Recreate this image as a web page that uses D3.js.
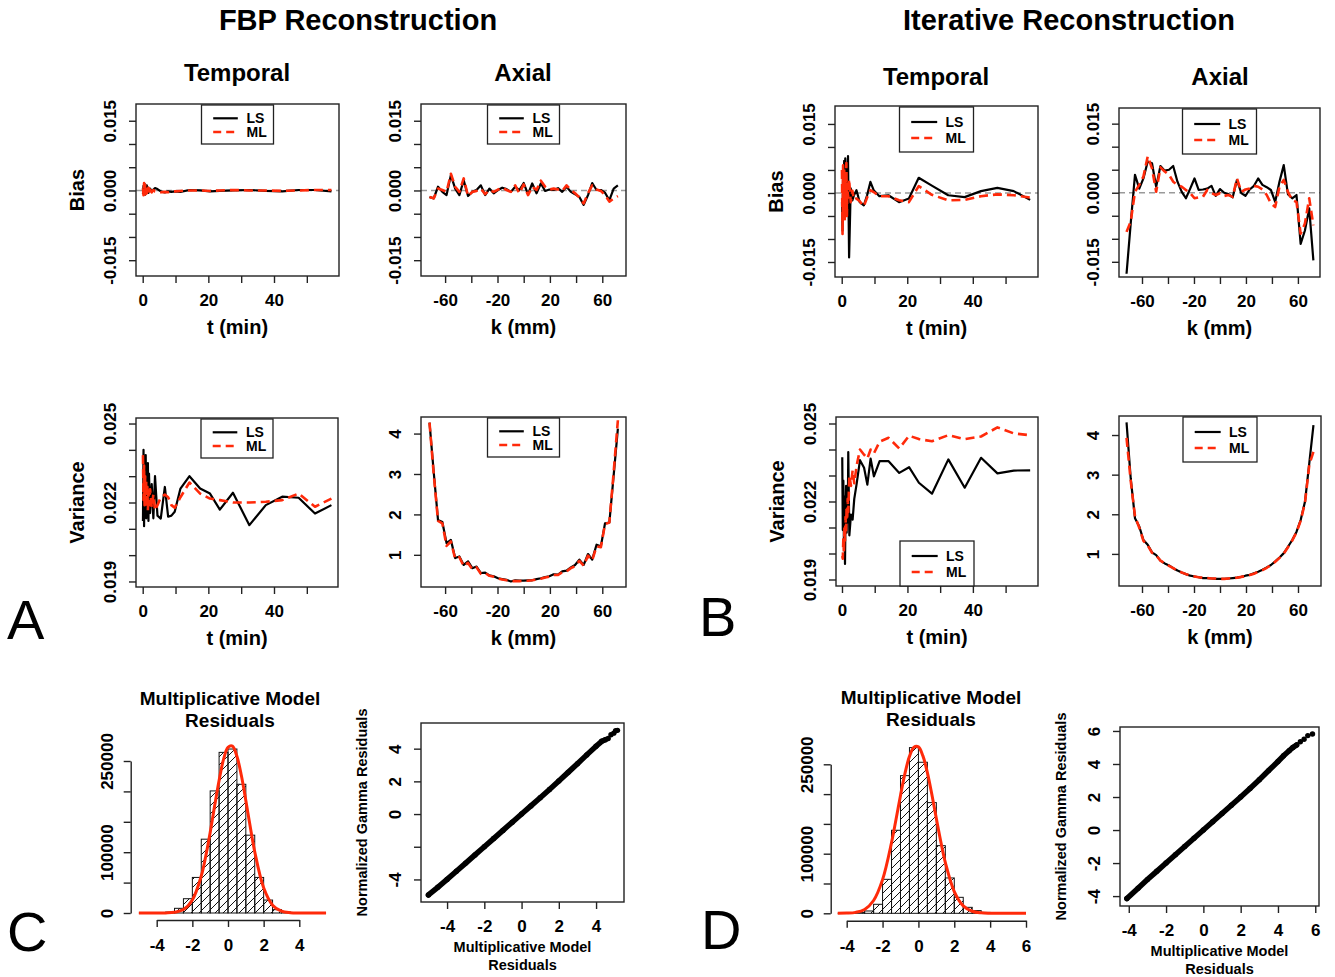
<!DOCTYPE html>
<html>
<head>
<meta charset="utf-8">
<script src="https://cdn.jsdelivr.net/npm/d3@7"></script>
<style>
body { margin: 0; background: #fff; }
svg { display: block; }
</style>
</head>
<body>
<svg id="fig" width="1335" height="977"></svg>
<script>
// ---- data ----
var tFrames = [0.08,0.25,0.42,0.58,0.75,0.92,1.08,1.25,1.42,1.58,1.75,1.92,2.25,2.75,3.25,3.75,4.5,5.5,6.75,7.75,8.75,9.75,11.5,14.25,17.5,20.5,23.5,27.5,32.5,37.5,42.5,47.5,52.5,57.5];
var kSlices = [-71.9,-68.7,-65.4,-62.1,-58.9,-55.6,-52.3,-49.1,-45.8,-42.5,-39.2,-36.0,-32.7,-29.4,-26.2,-22.9,-19.6,-16.4,-13.1,-9.8,-6.5,-3.3,0,3.3,6.5,9.8,13.1,16.4,19.6,22.9,26.2,29.4,32.7,36.0,39.2,42.5,45.8,49.1,52.3,55.6,58.9,62.1,65.4,68.7,71.9];

// FBP
var fbpTempBiasLS = [-0.0008,0.0010,-0.0006,0.0014,-0.0009,0.0008,-0.0004,0.0011,-0.0002,0.0006,-0.0005,0.0003,0.0004,-0.0003,0.0002,0.0005,0.0003,-0.0002,-0.0004,-0.0002,-0.0003,-0.0002,-0.0003,0.0001,0.0000,-0.0002,-0.0001,0.0000,0.0001,-0.0001,-0.0002,0.0001,0.0001,-0.0002];
var fbpTempBiasML = [0.0005,-0.0010,0.0016,-0.0004,0.0012,-0.0008,0.0009,-0.0006,0.0004,-0.0005,0.0006,-0.0007,0.0002,-0.0004,0.0001,-0.0002,-0.0003,-0.0004,-0.0003,-0.0004,-0.0002,-0.0002,-0.0001,0.0000,0.0000,-0.0001,0.0000,0.0001,0.0000,0.0000,-0.0001,0.0000,0.0001,0.0001];
var fbpAxBiasLS = [-0.0014,-0.0017,0.0008,-0.0003,-0.0010,0.0033,0.0004,-0.0010,0.0022,-0.0012,-0.0003,0.0001,0.0011,-0.0010,0.0004,-0.0006,0.0001,0.0006,0.0003,-0.0003,0.0008,0.0001,0.0016,-0.0008,0.0015,-0.0006,0.0015,-0.0001,0.0002,0.0001,0.0005,-0.0003,0.0008,-0.0003,-0.0008,-0.0014,-0.0031,-0.0010,0.0016,0.0001,0.0001,-0.0005,-0.0021,0.0004,0.0011];
var fbpAxBiasML = [-0.0014,-0.0017,0.0004,0.0001,-0.0003,0.0036,0.0008,-0.0003,0.0026,-0.0012,-0.0003,-0.0001,0.0004,-0.0008,0.0001,-0.0003,0.0002,0.0006,0.0001,-0.0003,0.0011,-0.0006,0.0013,-0.0010,0.0008,0.0001,0.0021,0.0008,0.0002,0.0004,0.0002,-0.0001,0.0011,0.0001,-0.0006,-0.0015,-0.0028,-0.0006,0.0011,0.0002,-0.0001,-0.0010,-0.0024,-0.0017,-0.0012];
var fbpTempVarLS = [0.0213,0.0240,0.0211,0.0232,0.0215,0.0238,0.0214,0.0228,0.0217,0.0235,0.0213,0.0231,0.0216,0.0227,0.0214,0.0230,0.0215,0.02139,0.02259,0.02146,0.02150,0.02165,0.02253,0.02300,0.02253,0.02234,0.02173,0.02237,0.02114,0.02190,0.02222,0.02218,0.02158,0.02190];
var fbpTempVarML = [0.0238,0.0221,0.0234,0.0219,0.0230,0.0218,0.0228,0.0220,0.0226,0.0217,0.0224,0.0219,0.0225,0.0218,0.0223,0.0217,0.0219,0.0222,0.0223,0.0222,0.0219,0.0218,0.0222,0.02276,0.02234,0.02215,0.02209,0.02200,0.02200,0.02203,0.02209,0.02234,0.02184,0.02215];
var fbpAxVarLS = [4.27,3.05,1.86,1.81,1.29,1.37,0.92,0.96,0.75,0.84,0.67,0.71,0.55,0.56,0.49,0.47,0.42,0.40,0.38,0.34,0.37,0.36,0.36,0.37,0.37,0.40,0.42,0.45,0.47,0.52,0.51,0.59,0.61,0.69,0.75,0.88,0.75,1.02,0.88,1.25,1.21,1.78,1.80,2.97,4.12];
var fbpAxVarML = [4.27,3.00,1.84,1.78,1.22,1.33,0.90,0.94,0.72,0.80,0.64,0.69,0.53,0.55,0.48,0.46,0.41,0.39,0.37,0.35,0.35,0.35,0.36,0.36,0.37,0.39,0.41,0.44,0.46,0.50,0.50,0.57,0.59,0.67,0.72,0.85,0.73,0.98,0.86,1.21,1.19,1.76,1.80,3.05,4.33];

// Iterative
var itTempBiasLS = [-0.0020,-0.0082,0.0050,-0.0030,0.0070,-0.0010,0.0075,-0.0050,0.0060,-0.0020,0.0040,0.0080,-0.0140,0.0010,-0.0016,-0.0005,0.0006,-0.0020,-0.0027,-0.0005,0.0024,0.0006,-0.0007,-0.0005,-0.0020,-0.0012,0.0033,0.0016,-0.0005,-0.0009,0.0004,0.0011,0.0004,-0.0015];
var itTempBiasML = [0.0050,-0.0089,0.0060,-0.0040,0.0055,-0.0060,0.0040,-0.0030,0.0065,-0.0050,0.0020,-0.0010,0.0030,-0.0020,0.0005,-0.0015,-0.0012,-0.0018,-0.0029,-0.0010,0.0006,0.0002,-0.0007,-0.0007,-0.0016,-0.0020,0.0015,-0.0004,-0.0016,-0.0015,-0.0007,-0.0003,-0.0005,-0.0010];
var itAxBiasLS = [-0.0176,-0.0067,0.0039,0.0009,0.0031,0.0068,0.0064,0.0013,0.0058,0.0048,0.0050,0.0058,0.0024,0.0002,-0.0012,0.0009,0.0031,0.0006,0.0007,0.0009,0.0015,-0.0007,0.0008,0.0000,-0.0003,-0.0010,0.0028,-0.0001,-0.0007,0.0007,0.0015,0.0031,0.0017,0.0012,0.0006,-0.0020,0.0024,0.0060,-0.0003,-0.0012,-0.0005,-0.0111,-0.0082,-0.0034,-0.0147];
var itAxBiasML = [-0.0085,-0.0063,0.0002,0.0017,0.0035,0.0079,0.0053,0.0002,0.0055,0.0046,0.0039,0.0024,0.0017,0.0013,0.0006,-0.0001,-0.0012,-0.0010,-0.0009,0.0006,-0.0001,-0.0005,-0.0001,-0.0007,-0.0005,-0.0009,0.0031,0.0002,0.0007,0.0009,0.0015,0.0013,0.0007,-0.0005,-0.0023,-0.0031,0.0013,0.0028,0.0002,-0.0016,-0.0020,-0.0089,-0.0067,-0.0012,-0.0071];
var itTempVarLS = [0.0237,0.0209,0.0228,0.0205,0.0222,0.0196,0.0215,0.0226,0.0208,0.0224,0.0212,0.0239,0.0207,0.0215,0.0213,0.0221,0.0227,0.02359,0.0233,0.02265,0.02365,0.02297,0.02355,0.02355,0.0231,0.02332,0.02272,0.0223,0.02362,0.02253,0.02368,0.02308,0.02319,0.0232];
var itTempVarML = [0.0199,0.0198,0.0206,0.0200,0.0210,0.0205,0.0214,0.0209,0.0218,0.0213,0.0221,0.0216,0.0230,0.0226,0.0232,0.0227,0.0234,0.0240,0.0238,0.02365,0.0240,0.02385,0.0243,0.02445,0.02404,0.02453,0.0244,0.02432,0.02455,0.0244,0.0245,0.02485,0.02462,0.02455];
var itAxVarLS = [4.32,2.91,1.90,1.69,1.35,1.23,1.04,0.97,0.83,0.76,0.71,0.64,0.58,0.53,0.49,0.45,0.43,0.41,0.39,0.39,0.38,0.37,0.37,0.37,0.38,0.39,0.40,0.42,0.45,0.47,0.51,0.55,0.60,0.66,0.72,0.81,0.91,1.02,1.18,1.35,1.56,1.86,2.32,3.29,4.25];
var itAxVarML = [3.93,2.85,1.95,1.66,1.33,1.21,1.03,0.96,0.83,0.76,0.70,0.64,0.58,0.53,0.49,0.45,0.43,0.41,0.40,0.39,0.38,0.38,0.37,0.37,0.38,0.39,0.40,0.42,0.44,0.47,0.50,0.55,0.59,0.65,0.72,0.80,0.90,1.01,1.17,1.34,1.55,1.84,2.30,3.25,3.58];

// residual histograms (lower bin edges, width 0.5) and fitted curves
var fbpResidBins = [-3.5,-3,-2.5,-2,-1.5,-1,-0.5,0,0.5,1,1.5,2,2.5,3];
var fbpResidCounts = [1500,7700,23500,58500,121400,200800,264200,269700,211700,128000,58500,21300,5500,1600];
var fbpCurveX = [-5,-4.5,-4,-3.5,-3,-2.5,-2,-1.5,-1.25,-1,-0.75,-0.5,-0.25,0,0.25,0.5,0.75,1,1.25,1.5,2,2.5,3,3.5,4,4.5,5,5.5];
var fbpCurveY = [0,0,20,175,1120,5650,21400,60800,93200,132400,176200,218000,252600,272500,274500,257700,226100,185000,141300,100700,41400,12900,3060,550,76,0,0,0];
var itResidBins = [-3.5,-3,-2.5,-2,-1.5,-1,-0.5,0,0.5,1,1.5,2,2.5,3,3.5];
var itResidCounts = [1200,3900,15100,57000,139300,231000,278000,253400,185700,113500,59300,26800,10000,4500,1500];
var itCurveX = [-4.5,-4,-3.5,-3,-2.5,-2,-1.5,-1.25,-1,-0.75,-0.5,-0.25,0,0.25,0.5,0.75,1,1.25,1.5,2,2.5,3,3.5,4,4.5,5,5.5,6];
var itCurveY = [17,306,1580,6520,21500,56500,118600,157400,197800,234700,263300,278800,279200,264100,236000,199200,159000,120000,85400,36500,12500,3400,730,130,17,0,0,0];

// Q-Q points (multiplicative vs normalized gamma residuals)
var fbpQQx = [-5.0,-4.5,-4,-3.5,-3,-2.5,-2,-1.5,-1,-0.5,0,0.5,1,1.5,2,2.5,3,3.5,4,4.3,4.5,4.65,4.8,4.95,5.05,5.15];
var fbpQQy = [-4.95,-4.48,-4.0,-3.5,-3.0,-2.5,-2.0,-1.5,-1.0,-0.5,0,0.5,1.0,1.5,2.02,2.55,3.08,3.62,4.15,4.45,4.55,4.62,4.85,4.95,5.1,5.12];
var itQQx = [-4.1,-3.5,-3,-2.5,-2,-1.5,-1,-0.5,0,0.5,1,1.5,2,2.5,3,3.5,4,4.3,4.6,4.8,5.0,5.2,5.4,5.6,5.85];
var itQQy = [-4.15,-3.52,-3.0,-2.5,-2.0,-1.5,-1.0,-0.5,0,0.5,1.0,1.5,2.0,2.52,3.05,3.6,4.15,4.5,4.8,5.0,5.15,5.35,5.5,5.72,5.82];

// ticks
var timeTicks = [0,10,20,30,40,50], timeLabels = [0,20,40];
var kTicks = [-60,-40,-20,0,20,40,60], kLabels = [-60,-20,20,60];
var biasTicks = [-0.015,-0.01,-0.005,0,0.005,0.01,0.015], biasLabels = [-0.015,0,0.015];
var varTTicks = [0.019,0.02,0.021,0.022,0.023,0.024,0.025], varTLabels = [0.019,0.022,0.025];
var varKTicks = [1,2,3,4];
var histYTicks = [0,50000,100000,150000,200000,250000], histYLabels = [0,100000,250000];

// ---- drawing ----
var FONT = '"Liberation Sans", Arial, Helvetica, sans-serif';
var RED = "#ff2a0a";
var INK = "#222";
var TICK_FS = 17;
var svg = d3.select("#fig");

function has(arr, v) { return arr.some(function (a) { return Math.abs(a - v) < 1e-9; }); }
function fmt(dec) { return function (d) { return (d < -1e-12 ? "-" : "") + Math.abs(d).toFixed(dec); }; }

function txt(x, y, s, size, opts) {
  opts = opts || {};
  var t = svg.append("text").attr("x", x).attr("y", y).text(s)
    .attr("font-family", FONT).attr("font-size", size)
    .attr("font-weight", opts.weight || "bold")
    .attr("text-anchor", opts.anchor || "middle").attr("fill", "#000");
  if (opts.rot) t.attr("x", 0).attr("y", 0).attr("dy", "0.36em").attr("transform", "translate(" + x + "," + y + ") rotate(-90)");
  return t;
}

function bottomAxis(x, yPos, ticks, labels, f, off, keepDomain) {
  var a = svg.append("g").attr("transform", "translate(0," + yPos + ")")
    .call(d3.axisBottom(x).tickValues(ticks).tickSize(7).tickSizeOuter(0)
      .tickFormat(function (d) { return has(labels, d) ? f(d) : ""; }));
  if (!keepDomain) a.select(".domain").remove();
  a.attr("font-family", FONT).attr("font-size", TICK_FS).attr("font-weight", "bold");
  a.selectAll(".domain, .tick line").attr("stroke", INK).attr("stroke-width", 1.4);
  a.selectAll(".tick text").attr("y", off).attr("dy", "0.36em").attr("fill", "#000");
}

function leftAxis(y, xPos, ticks, labels, f, off, keepDomain) {
  var a = svg.append("g").attr("transform", "translate(" + xPos + ",0)")
    .call(d3.axisLeft(y).tickValues(ticks).tickSize(7).tickSizeOuter(0)
      .tickFormat(function (d) { return has(labels, d) ? f(d) : ""; }));
  if (!keepDomain) a.select(".domain").remove();
  a.attr("font-family", FONT).attr("font-size", TICK_FS).attr("font-weight", "bold");
  a.selectAll(".domain, .tick line").attr("stroke", INK).attr("stroke-width", 1.4);
  a.selectAll(".tick text").attr("x", 0).attr("dy", "0.36em").attr("text-anchor", "middle")
    .attr("transform", "translate(" + (-off) + ",0) rotate(-90)").attr("fill", "#000");
}

function legend(p) {
  var L = p.leg, cx = (p.x0 + p.x1) / 2;
  var bx = cx - L.w / 2, by = L.pos === "top" ? p.y0 + 1 : p.y1 - L.h;
  svg.append("rect").attr("x", bx).attr("y", by).attr("width", L.w).attr("height", L.h)
    .attr("fill", "#fff").attr("stroke", INK).attr("stroke-width", 1.3);
  [["LS", "#000", null, 2.2], ["ML", RED, "8,5", 2.6]].forEach(function (r, i) {
    var yy = by + L.rows[i];
    svg.append("line").attr("x1", bx + 11.7).attr("x2", bx + L.lx).attr("y1", yy).attr("y2", yy)
      .attr("stroke", r[1]).attr("stroke-width", r[3]).attr("stroke-dasharray", r[2]);
    txt(bx + L.tx, yy, r[0], 14, { anchor: "start" }).attr("dy", "0.36em");
  });
}

var legA = { pos: "top", w: 72, h: 39, rows: [13.3, 27], lx: 36.3, tx: 45 };
var legB = { pos: "top", w: 74, h: 45, rows: [15, 31], lx: 37.7, tx: 46 };
var legBb = { pos: "bottom", w: 74, h: 45, rows: [15, 31], lx: 37.7, tx: 46 };

var panels = [
  { x0: 136, y0: 104, x1: 339, y1: 276, xd: [-2.04, 59.8], yd: [-0.0184, 0.0186], xs: tFrames, ls: fbpTempBiasLS, ml: fbpTempBiasML,
    xt: timeTicks, xl: timeLabels, yt: biasTicks, yl: biasLabels, ydec: 3, xTitle: "t (min)", yTitle: "Bias", zero: true, leg: legA },
  { x0: 421, y0: 104, x1: 626, y1: 276, xd: [-78.4, 78.1], yd: [-0.0184, 0.0186], xs: kSlices, ls: fbpAxBiasLS, ml: fbpAxBiasML,
    xt: kTicks, xl: kLabels, yt: biasTicks, yl: biasLabels, ydec: 3, xTitle: "k (mm)", zero: true, leg: legA },
  { x0: 136, y0: 418, x1: 338, y1: 587, xd: [-2.04, 59.5], yd: [0.01879, 0.02521], xs: tFrames, ls: fbpTempVarLS, ml: fbpTempVarML,
    xt: timeTicks, xl: timeLabels, yt: varTTicks, yl: varTLabels, ydec: 3, xTitle: "t (min)", yTitle: "Variance", leg: legA },
  { x0: 421, y0: 417, x1: 626, y1: 587, xd: [-78.4, 78.1], yd: [0.204, 4.41], xs: kSlices, ls: fbpAxVarLS, ml: fbpAxVarML,
    xt: kTicks, xl: kLabels, yt: varKTicks, yl: varKTicks, ydec: 0, xTitle: "k (mm)", leg: legA },
  { x0: 835, y0: 106, x1: 1038, y1: 277, xd: [-2.05, 59.9], yd: [-0.01826, 0.0189], xs: tFrames, ls: itTempBiasLS, ml: itTempBiasML,
    xt: timeTicks, xl: timeLabels, yt: biasTicks, yl: biasLabels, ydec: 3, xTitle: "t (min)", yTitle: "Bias", zero: true, leg: legB },
  { x0: 1119, y0: 108, x1: 1320, y1: 277, xd: [-77.7, 77], yd: [-0.0183, 0.0184], xs: kSlices, ls: itAxBiasLS, ml: itAxBiasML,
    xt: kTicks, xl: kLabels, yt: biasTicks, yl: biasLabels, ydec: 3, xTitle: "k (mm)", zero: true, leg: legB },
  { x0: 836, y0: 417, x1: 1038, y1: 586, xd: [-1.83, 59.9], yd: [0.01875, 0.02525], xs: tFrames, ls: itTempVarLS, ml: itTempVarML,
    xt: timeTicks, xl: timeLabels, yt: varTTicks, yl: varTLabels, ydec: 3, xTitle: "t (min)", yTitle: "Variance", leg: legBb },
  { x0: 1119, y0: 416, x1: 1321, y1: 586, xd: [-77.7, 77.7], yd: [0.19, 4.48], xs: kSlices, ls: itAxVarLS, ml: itAxVarML,
    xt: kTicks, xl: kLabels, yt: varKTicks, yl: varKTicks, ydec: 0, xTitle: "k (mm)", leg: legB }
];

panels.forEach(function (p) {
  var x = d3.scaleLinear().domain(p.xd).range([p.x0, p.x1]);
  var y = d3.scaleLinear().domain(p.yd).range([p.y1, p.y0]);
  if (p.zero) {
    svg.append("line").attr("x1", p.x0).attr("x2", p.x1).attr("y1", y(0)).attr("y2", y(0))
      .attr("stroke", "#9a9a9a").attr("stroke-width", 1.5).attr("stroke-dasharray", "6,4");
  }
  var line = d3.line().x(function (d, i) { return x(p.xs[i]); }).y(function (d) { return y(d); });
  svg.append("path").datum(p.ls).attr("d", line).attr("fill", "none")
    .attr("stroke", "#000").attr("stroke-width", 2.2).attr("stroke-linejoin", "round");
  svg.append("path").datum(p.ml).attr("d", line).attr("fill", "none")
    .attr("stroke", RED).attr("stroke-width", 2.6).attr("stroke-dasharray", "9,5").attr("stroke-linejoin", "round");
  svg.append("rect").attr("x", p.x0).attr("y", p.y0).attr("width", p.x1 - p.x0).attr("height", p.y1 - p.y0)
    .attr("fill", "none").attr("stroke", INK).attr("stroke-width", 1.4);
  bottomAxis(x, p.y1, p.xt, p.xl, fmt(0), 24);
  leftAxis(y, p.x0, p.yt, p.yl, fmt(p.ydec), 26);
  txt((p.x0 + p.x1) / 2, p.y1 + 51, p.xTitle, 20).attr("dy", "0.36em");
  if (p.yTitle) txt(p.x0 - 59.5, (p.y0 + p.y1) / 2, p.yTitle, 20, { rot: true });
  legend(p);
});

// hatch pattern for histogram bars
var defs = svg.append("defs");
defs.append("pattern").attr("id", "hatch").attr("patternUnits", "userSpaceOnUse")
  .attr("width", 8).attr("height", 8)
  .append("path").attr("d", "M-2,2 L2,-2 M0,8 L8,0 M6,10 L10,6")
  .attr("stroke", "#111").attr("stroke-width", 1);

function histPanel(h) {
  var x = d3.scaleLinear().domain(h.xd).range(h.xr);
  var y = d3.scaleLinear().domain([0, 250000]).range(h.yr);
  svg.selectAll(null).data(h.counts).enter().append("rect")
    .attr("x", function (d, i) { return x(h.bins[i]); })
    .attr("width", function (d, i) { return x(h.bins[i] + 0.5) - x(h.bins[i]); })
    .attr("y", function (d) { return y(d); })
    .attr("height", function (d) { return y(0) - y(d); })
    .attr("fill", "url(#hatch)").attr("stroke", "#111").attr("stroke-width", 1);
  svg.append("line").attr("x1", x(h.cx[0])).attr("x2", x(h.bins[0])).attr("y1", y(0)).attr("y2", y(0))
    .attr("stroke", "#111").attr("stroke-width", 1);
  svg.append("line").attr("x1", x(h.bins[h.bins.length - 1] + 0.5)).attr("x2", x(h.cx[h.cx.length - 1])).attr("y1", y(0)).attr("y2", y(0))
    .attr("stroke", "#111").attr("stroke-width", 1);
  var curve = d3.line().curve(d3.curveCatmullRom)
    .x(function (d, i) { return x(h.cx[i]); }).y(function (d) { return y(d); });
  svg.append("path").datum(h.cy).attr("d", curve).attr("fill", "none")
    .attr("stroke", RED).attr("stroke-width", 3);
  bottomAxis(x, h.axisY, h.xt, h.xt, fmt(0), 25, true);
  leftAxis(y, h.axisX, histYTicks, histYLabels, fmt(0), 24, true);
  txt(h.tx, h.ty, "Multiplicative Model", 19).attr("dy", "0.36em");
  txt(h.tx, h.ty + 22, "Residuals", 19).attr("dy", "0.36em");
}

histPanel({ xd: [-4, 4], xr: [156.7, 299.3], yr: [913, 761], bins: fbpResidBins, counts: fbpResidCounts,
  cx: fbpCurveX, cy: fbpCurveY, axisY: 920, axisX: 130.7, xt: [-4, -2, 0, 2, 4], tx: 230, ty: 698 });
histPanel({ xd: [-4, 6], xr: [846.7, 1026], yr: [913.3, 764.3], bins: itResidBins, counts: itResidCounts,
  cx: itCurveX, cy: itCurveY, axisY: 920.7, axisX: 830.7, xt: [-4, -2, 0, 2, 4, 6], tx: 931, ty: 697 });

function qqPanel(q) {
  var x = d3.scaleLinear().domain(q.xd).range([q.x0, q.x1]);
  var y = d3.scaleLinear().domain(q.yd).range([q.y1, q.y0]);
  var dense = q.px.filter(function (v) { return v <= q.denseMax; }).length;
  var line = d3.line().x(function (d, i) { return x(q.px[i]); }).y(function (d) { return y(d); });
  svg.append("path").datum(q.py.slice(0, dense)).attr("d", line).attr("fill", "none")
    .attr("stroke", "#000").attr("stroke-width", 5.5).attr("stroke-linecap", "round");
  svg.selectAll(null).data(q.py).enter().append("circle")
    .attr("cx", function (d, i) { return x(q.px[i]); }).attr("cy", function (d) { return y(d); })
    .attr("r", 2.7).attr("fill", "#000");
  svg.append("rect").attr("x", q.x0).attr("y", q.y0).attr("width", q.x1 - q.x0).attr("height", q.y1 - q.y0)
    .attr("fill", "none").attr("stroke", INK).attr("stroke-width", 1.4);
  bottomAxis(x, q.y1, q.xt, q.xt, fmt(0), 24);
  leftAxis(y, q.x0, q.yt, q.yl, fmt(0), 26);
  var cx = (q.x0 + q.x1) / 2;
  txt(cx, q.y1 + 45, "Multiplicative Model", 14.5).attr("dy", "0.36em");
  txt(cx, q.y1 + 62.5, "Residuals", 14.5).attr("dy", "0.36em");
  txt(q.x0 - 59, (q.y0 + q.y1) / 2, "Normalized Gamma Residuals", 14.5, { rot: true });
}

qqPanel({ x0: 421, y0: 723, x1: 624, y1: 902, xd: [-5.4, 5.5], yd: [-5.38, 5.57], px: fbpQQx, py: fbpQQy, denseMax: 4.5,
  xt: [-4, -2, 0, 2, 4], yt: [-4, -2, 0, 2, 4], yl: [-4, 0, 2, 4] });
qqPanel({ x0: 1120, y0: 727, x1: 1319, y1: 906, xd: [-4.47, 6.2], yd: [-4.6, 6.24], px: itQQx, py: itQQy, denseMax: 5.0,
  xt: [-4, -2, 0, 2, 4, 6], yt: [-4, -2, 0, 2, 4, 6], yl: [-4, -2, 0, 2, 4, 6] });

// titles
txt(358, 30, "FBP Reconstruction", 29);
txt(1069, 30, "Iterative Reconstruction", 29);
txt(237, 81, "Temporal", 24);
txt(523, 81, "Axial", 24);
txt(936, 85, "Temporal", 24);
txt(1220, 85, "Axial", 24);

// panel letters
txt(7, 639, "A", 56, { anchor: "start", weight: "normal" });
txt(699, 636, "B", 56, { anchor: "start", weight: "normal" });
txt(7, 951, "C", 56, { anchor: "start", weight: "normal" });
txt(701, 949, "D", 56, { anchor: "start", weight: "normal" });
</script>
</body>
</html>
